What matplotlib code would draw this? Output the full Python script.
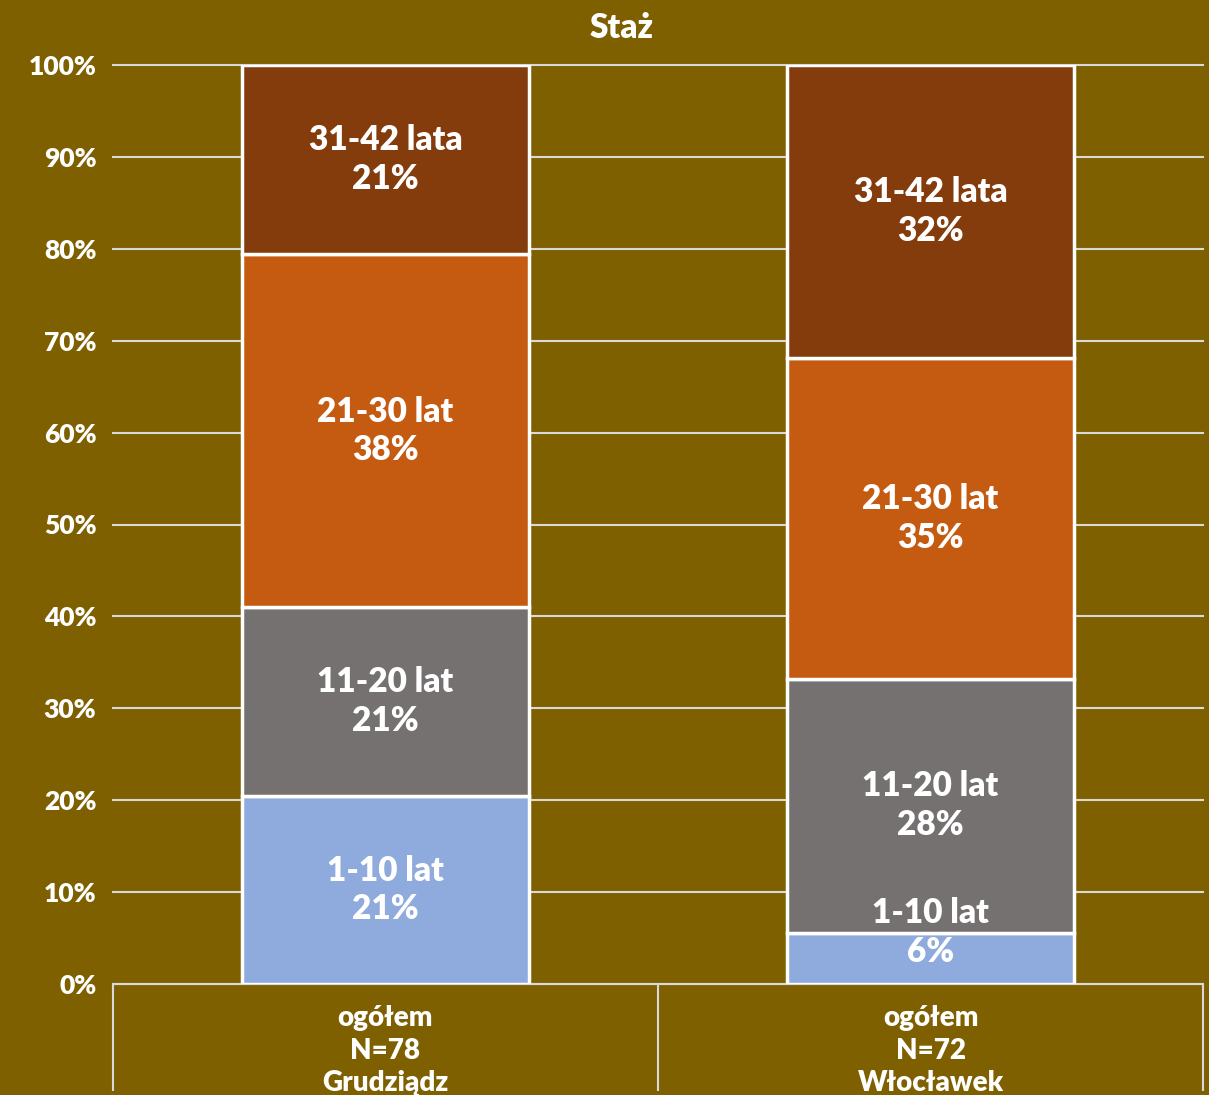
import matplotlib
matplotlib.use("Agg")
import matplotlib.pyplot as plt
import numpy as np

plt.rcParams['font.family'] = ['Lato', 'DejaVu Sans']
plt.rcParams['font.weight'] = 'bold'

categories = ["ogółem\nN=78\nGrudziądz", "ogółem\nN=72\nWłocławek"]
series_names = ["1-10 lat", "11-20 lat", "21-30 lat", "31-42 lata"]
values = {
    "1-10 lat":   [20.5, 5.6],
    "11-20 lat":  [20.5, 27.6],
    "21-30 lat":  [38.4, 34.9],
    "31-42 lata": [20.6, 31.9],
}
colors = ["#8FAADC", "#767171", "#C55A11", "#843C0C"]
yticks = [0, 10, 20, 30, 40, 50, 60, 70, 80, 90, 100]
ytick_labels = [f"{t}%" for t in yticks]
title = "Staż"

bg = "#7F6000"
fig = plt.figure(figsize=(12.09, 10.95), dpi=100, facecolor=bg)
ax = fig.add_axes([113/1209, 111/1095, 1090/1209, 919/1095], facecolor=bg)

x = np.arange(len(categories))
bottom = np.zeros(len(categories))
for name, col in zip(series_names, colors):
    v = np.array(values[name])
    ax.bar(x, v, bottom=bottom, width=0.525, color=col, edgecolor="white",
           linewidth=2.5, zorder=3)
    for xi, vi, bi in zip(x, v, bottom):
        yc = bi + vi / 2 if vi >= 10 else bi + vi
        pct = int(np.floor(vi + 0.5))
        ax.text(xi, yc, f"{name}\n{pct}%", ha="center", va="center",
                color="white", fontsize=24, fontweight="heavy", linespacing=1.25,
                zorder=4)
    bottom += v

ax.set_xlim(-0.5, 1.5)
ax.set_ylim(0, 100)
ax.set_yticks(yticks)
ax.set_yticklabels(ytick_labels, color="white", fontsize=19, fontweight="heavy")
ax.tick_params(axis="y", length=0, pad=12)
ax.grid(axis="y", color="#D9D9D9", linewidth=1.5, zorder=0)
for gl in ax.get_ygridlines():
    gl.set_clip_on(False)
ax.set_axisbelow(True)

ax.set_xticks(x)
ax.set_xticklabels(categories, color="white", fontsize=20, fontweight="heavy",
                   linespacing=1.32)
ax.tick_params(axis="x", length=0, pad=15)
ax.set_xticks([-0.5, 0.5, 1.5], minor=True)
ax.tick_params(axis="x", which="minor", length=77, width=1.5, color="#D9D9D9",
               direction="out")

for s in ["top", "right", "left"]:
    ax.spines[s].set_visible(False)
ax.spines["bottom"].set_color("#D9D9D9")
ax.spines["bottom"].set_linewidth(1.5)

fig.text(622/1209, 1 - 28/1095, title,
         ha="center", va="center", color="white", fontsize=24, fontweight="heavy")

fig.savefig("out.png", dpi=100, facecolor=bg)
